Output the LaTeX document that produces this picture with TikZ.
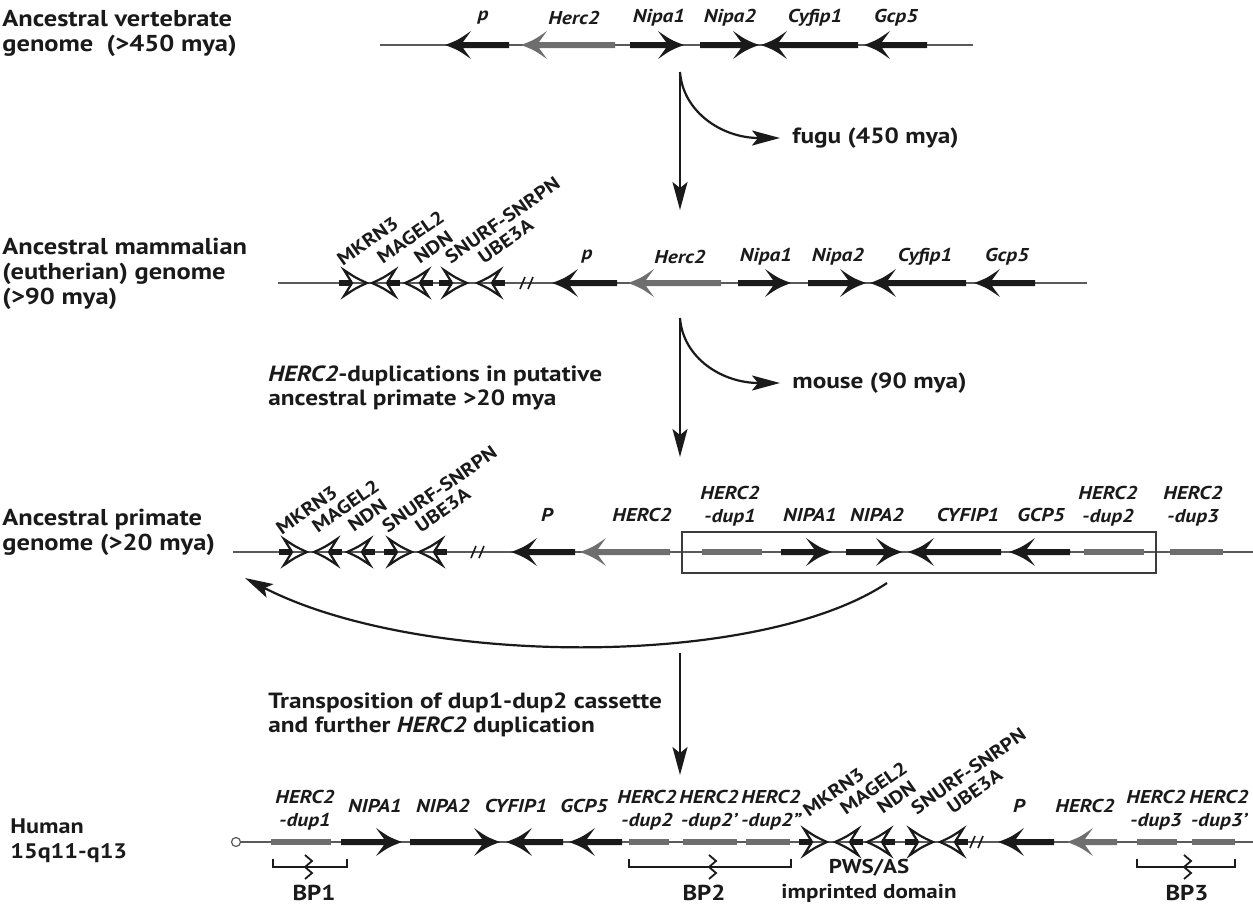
\documentclass[tikz,border=0pt]{standalone}
\usepackage{fontspec}
\setmainfont{PT Sans}[FakeStretch=1.15]
\usetikzlibrary{arrows.meta}
\definecolor{gk}{HTML}{1A1A1A}
\definecolor{hg}{HTML}{6E6E6E}
\definecolor{chr}{HTML}{5A5A5A}
% filled gene arrow: [colour]{tip}{end}{y}
\newcommand\gArr[4][gk]{%
  \pgfmathsetmacro\gArrDir{(#3>#2)?1:-1}%
  \fill[#1] (#2,#4) .. controls ({#2+\gArrDir*13},{#4-5}) .. ({#2+\gArrDir*26},{#4-14})
    -- ({#2+\gArrDir*18},{#4-3}) -- (#3,{#4-3}) -- (#3,{#4+3})
    -- ({#2+\gArrDir*18},{#4+3}) -- ({#2+\gArrDir*26},{#4+14})
    .. controls ({#2+\gArrDir*13},{#4+5}) .. (#2,#4) -- cycle;}
% open (imprinted) gene arrow: {tip}{side of body: 1 right, -1 left}{y}
\newcommand\gOpen[3]{%
  \fill[gk] ({#1+#2*15},{#3-3}) rectangle ({#1+#2*28},{#3+3});
  \draw[gk, line width=1.1pt, line join=miter] (#1,#3) .. controls ({#1+#2*11},{#3-5}) .. ({#1+#2*23},{#3-13})
    -- ({#1+#2*15},#3) -- ({#1+#2*23},{#3+13}) .. controls ({#1+#2*11},{#3+5}) .. (#1,#3) -- cycle;}
% duplicated HERC2 segment
\newcommand\gSeg[3]{\fill[hg] (#1,{#3-3}) rectangle (#2,{#3+3});}
% chromosome break mark
\newcommand\gBrk[2]{\draw[gk, line width=0.8pt] ({#1-7},{#2+6}) -- ({#1-2},{#2-6}) ({#1+1},{#2+6}) -- ({#1+6},{#2-6});}
% BP bracket {x1}{x2}{cx}{y}
\newcommand\gBP[4]{%
  \draw[gk, line width=0.9pt] (#1,{#4-8}) -- (#1,#4) -- (#2,#4) -- (#2,{#4-8});
  \draw[gk, line width=0.9pt, line join=miter] ({#3-3},{#4-12}) -- ({#3+4},{#4-6}) -- ({#3-3},#4) -- ({#3+4},{#4+6}) -- ({#3-3},{#4+12});}
\begin{document}
\begin{tikzpicture}[x=0.5pt,y=-0.5pt,
  glab/.style={font=\fontsize{9.3}{11.5}\selectfont\bfseries\itshape, inner sep=0, text=gk, align=center},
  rlab/.style={font=\fontsize{9.3}{10}\selectfont\bfseries, inner sep=0, text=gk, rotate=35, anchor=south west},
  mlab/.style={font=\fontsize{11.5}{12.5}\selectfont\bfseries, inner sep=0, text=gk, align=left, anchor=west},
  tlab/.style={font=\fontsize{11}{12}\selectfont\bfseries, inner sep=0, text=gk, align=left, anchor=west},
  blab/.style={font=\fontsize{10.8}{12.5}\selectfont\bfseries, inner sep=0, text=gk, align=center},
  chrline/.style={chr, line width=0.7pt},
  evo/.style={gk, line width=1.1pt, -{Stealth[length=14pt,width=7.5pt,inset=3pt]}}]
\useasboundingbox (0,0) rectangle (1253,905);

% ---------- left titles ----------
\node[mlab] (t1) at (2,33) {Ancestral vertebrate\\genome~~(>450 mya)};
\node[mlab] (t2) at (2,274) {Ancestral mammalian\\(eutherian) genome\\(>90 mya)};
\node[mlab] (t3) at (2,532) {Ancestral primate\\genome (>20 mya)};
\node[mlab, font=\fontsize{10.5}{12.5}\selectfont\bfseries] (t4) at (10,841) {Human\\15q11-q13};

% ---------- row 1 ----------
\draw[chrline] (380,45) -- (973,45);
\gArr{445}{509}{45}
\gArr[hg]{521}{615}{45}
\gArr{684}{630}{45}
\gArr{759}{700}{45}
\gArr{761}{858}{45}
\gArr{864}{927}{45}
\node[glab] (r1a) at (483,18) {p};
\node[glab] (r1b) at (574,18) {Herc2};
\node[glab] (r1c) at (659,18) {Nipa1};
\node[glab] (r1d) at (730,18) {Nipa2};
\node[glab] (r1e) at (815,18) {Cyfip1};
\node[glab] (r1f) at (896,18) {Gcp5};

% ---------- evolution step 1 ----------
\coordinate (a1s) at (680,72);
\coordinate (a1e) at (680,210);
\coordinate (b1e) at (780,138);
\draw[evo] (a1s) -- (a1e);
\draw[evo] (a1s) .. controls (683,112) and (722,138) .. (b1e);
\node[tlab] (fugu) at (792,138) {fugu (450 mya)};

% ---------- row 2 ----------
\draw[chrline] (278,283) -- (1087,283);
\gOpen{367}{-1}{283}
\gOpen{372}{1}{283}
\gOpen{405}{1}{283}
\gOpen{467}{-1}{283}
\gOpen{477}{1}{283}
\gBrk{527}{283}
\gArr{552}{617}{283}
\gArr[hg]{628}{721}{283}
\gArr{791}{738}{283}
\gArr{866}{808}{283}
\gArr{870}{966}{283}
\gArr{974}{1035}{283}
\node[rlab] (r2a) at (343,267) {MKRN3};
\node[rlab] (r2b) at (383,265) {MAGEL2};
\node[rlab] (r2c) at (420,265) {NDN};
\node[rlab] (r2d) at (451,265) {SNURF-SNRPN};
\node[rlab] (r2e) at (484,265) {UBE3A};
\node[glab] (r2f) at (587,257) {p};
\node[glab] (r2g) at (680,257) {Herc2};
\node[glab] (r2h) at (766,257) {Nipa1};
\node[glab] (r2i) at (838,257) {Nipa2};
\node[glab] (r2j) at (925,257) {Cyfip1};
\node[glab] (r2k) at (1007,257) {Gcp5};

% ---------- evolution step 2 ----------
\coordinate (a2s) at (680,318);
\coordinate (a2e) at (680,457);
\coordinate (b2e) at (780,383);
\draw[evo] (a2s) -- (a2e);
\draw[evo] (a2s) .. controls (683,358) and (722,383) .. (b2e);
\node[tlab] (mouse) at (792,383) {mouse (90 mya)};
\node[tlab] (dupt) at (268,388) {\textit{HERC2}-duplications in putative\\ancestral primate >20 mya};

% ---------- row 3 ----------
\draw[chrline] (233,552) -- (1253,552);
\draw[gk!85, line width=0.6pt] (682,532) rectangle (1156,573);
\gOpen{307}{-1}{552}
\gOpen{314}{1}{552}
\gOpen{347}{1}{552}
\gOpen{412}{-1}{552}
\gOpen{419}{1}{552}
\gBrk{478}{552}
\gArr{511}{575}{552}
\gArr[hg]{580}{670}{552}
\gSeg{702}{762}{552}
\gArr{832}{781}{552}
\gArr{902}{846}{552}
\gArr{908}{1001}{552}
\gArr{1009}{1070}{552}
\gSeg{1084}{1144}{552}
\gSeg{1170}{1223}{552}
\node[rlab] (r3a) at (282,536) {MKRN3};
\node[rlab] (r3b) at (318,534) {MAGEL2};
\node[rlab] (r3c) at (354,533) {NDN};
\node[rlab] (r3d) at (388,534) {SNURF-SNRPN};
\node[rlab] (r3e) at (421,534) {UBE3A};
\node[glab] (r3f) at (547,515) {P};
\node[glab] (r3g) at (642,515) {HERC2};
\node[glab] (r3h) at (730,506) {HERC2\\-dup1};
\node[glab] (r3i) at (810,515) {NIPA1};
\node[glab] (r3j) at (877,515) {NIPA2};
\node[glab] (r3k) at (968,515) {CYFIP1};
\node[glab] (r3l) at (1041,515) {GCP5};
\node[glab] (r3m) at (1108,506) {HERC2\\-dup2};
\node[glab] (r3n) at (1193,506) {HERC2\\-dup3};

% ---------- transposition ----------
\coordinate (c1s) at (887,583);
\coordinate (c1e) at (245,578);
\draw[evo] (c1s) .. controls (760,668) and (420,668) .. (c1e);
\coordinate (a3s) at (680,653);
\coordinate (a3e) at (680,775);
\draw[evo] (a3s) -- (a3e);
\node[tlab] (trans) at (268,715) {Transposition of dup1-dup2 cassette\\and further \textit{HERC2} duplication};

% ---------- row 4 (human) ----------
\node[circle, draw=chr, fill=white, line width=0.6pt, inner sep=0, minimum size=4.5pt] (cen) at (236,842) {};
\draw[chrline] (cen.east) -- (1253,842);
\gSeg{271}{331}{842}
\gArr{402}{341}{842}
\gArr{500}{410}{842}
\gArr{506}{563}{842}
\gArr{569}{622}{842}
\gSeg{629}{669}{842}
\gSeg{683}{737}{842}
\gSeg{746}{790}{842}
\gOpen{827}{-1}{842}
\gOpen{835}{1}{842}
\gOpen{867}{1}{842}
\gOpen{933}{-1}{842}
\gOpen{940}{1}{842}
\gBrk{977}{842}
\gArr{998}{1054}{842}
\gArr[hg]{1067}{1117}{842}
\gSeg{1137}{1177}{842}
\gSeg{1192}{1235}{842}
\node[glab] (r4a) at (305,810) {HERC2\\-dup1};
\node[glab] (r4b) at (375,806) {NIPA1};
\node[glab] (r4c) at (443,806) {NIPA2};
\node[glab] (r4d) at (516,806) {CYFIP1};
\node[glab] (r4e) at (584,806) {GCP5};
\node[glab] (r4f) at (647,810) {HERC2\\-dup2};
\node[glab] (r4g) at (709,810) {HERC2\\-dup2'};
\node[glab] (r4h) at (771,810) {HERC2\\-dup2"};
\node[rlab] (r4i) at (809,818) {MKRN3};
\node[rlab] (r4j) at (846,816) {MAGEL2};
\node[rlab] (r4k) at (883,815) {NDN};
\node[rlab] (r4l) at (917,816) {SNURF-SNRPN};
\node[rlab] (r4m) at (953,815) {UBE3A};
\node[glab] (r4n) at (1019,806) {P};
\node[glab] (r4o) at (1085,806) {HERC2};
\node[glab] (r4p) at (1156,810) {HERC2\\-dup3};
\node[glab] (r4q) at (1219,810) {HERC2\\-dup3'};
\gBP{273}{347}{308}{867}
\gBP{629}{791}{712}{867}
\gBP{1137}{1235}{1187}{867}
\node[blab] (bp1) at (314,893) {BP1};
\node[blab] (bp2) at (704,893) {BP2};
\node[blab] (bp3) at (1187,893) {BP3};
\node[blab, font=\fontsize{10}{12.5}\selectfont\bfseries] (pws) at (869,881) {PWS/AS\\imprinted domain};
\end{tikzpicture}
\end{document}
